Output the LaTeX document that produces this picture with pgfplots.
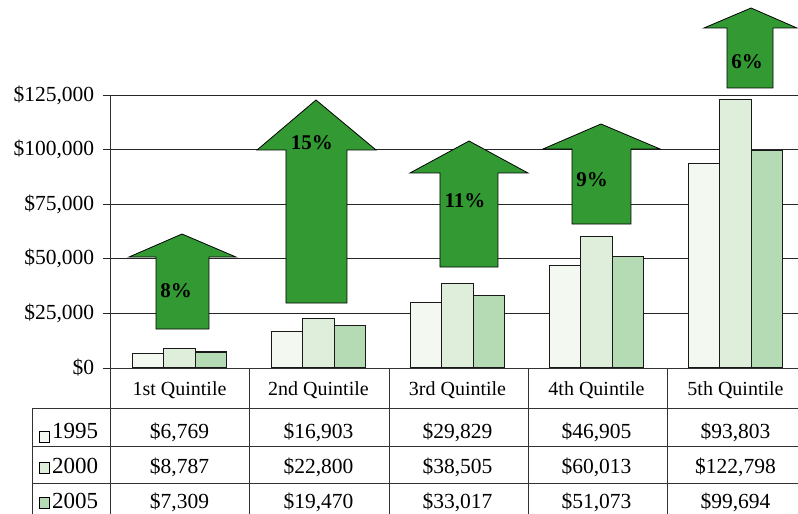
\documentclass[border=0pt]{standalone}
\usepackage{fontspec}
\setmainfont{Liberation Serif}
\usepackage{pgfplots}
\pgfplotsset{compat=1.18}
\definecolor{cA}{HTML}{F3F8F1}
\definecolor{cB}{HTML}{DFEEDB}
\definecolor{cC}{HTML}{B4DBB4}
\definecolor{arrowgreen}{HTML}{339933}
\newcommand{\numfont}{\fontsize{21.5}{24}\selectfont}
\begin{document}
\fontsize{20}{24}\selectfont
\begin{tikzpicture}
\begin{axis}[
 at={(110pt,-368pt)}, anchor=south west,
 scale only axis, width=695pt, height=368pt,
 xmin=-0.5, xmax=4.5, ymin=0, ymax=168498,
 axis line style={draw=none},
 xtick=\empty,
 ytick={0,25000,50000,75000,100000,125000},
 yticklabels={{\$0},{\$25,000},{\$50,000},{\$75,000},{\$100,000},{\$125,000}},
 ymajorgrids, grid style={black!85, line width=0.9pt},
 tick align=outside, major tick length=7pt,
 ytick style={black!85,line width=0.9pt},
 tick pos=left,
 scaled y ticks=false,
 yticklabel style={font=\numfont, xshift=-2pt},
 ybar=0pt, bar width=31.3pt,
 clip=false,
]
\addplot[fill=cA, draw=black!90, line width=1.1pt] coordinates {(0,6769) (1,16903) (2,29829) (3,46905) (4,93803)};
\addplot[fill=cB, draw=black!90, line width=1.1pt] coordinates {(0,8787) (1,22800) (2,38505) (3,60013) (4,122798)};
\addplot[fill=cC, draw=black!90, line width=1.1pt] coordinates {(0,7309) (1,19470) (2,33017) (3,51073) (4,99694)};
% arrows
\draw[fill=arrowgreen, draw=black, line width=0.8pt] (axis cs:-0.169,17857) -- (axis cs:0.212,17857) -- (axis cs:0.212,50825) -- (axis cs:0.406,50825) -- (axis cs:0.018,61356) -- (axis cs:-0.363,50825) -- (axis cs:-0.169,50825) -- cycle;
\node[font=\bfseries\fontsize{21}{24}\selectfont] at (axis cs:-0.025,35257) {8\%};
\draw[fill=arrowgreen, draw=black, line width=0.8pt] (axis cs:0.766,29762) -- (axis cs:1.205,29762) -- (axis cs:1.205,99818) -- (axis cs:1.414,99818) -- (axis cs:0.982,122712) -- (axis cs:0.558,99818) -- (axis cs:0.766,99818) -- cycle;
\node[font=\bfseries\fontsize{21}{24}\selectfont] at (axis cs:0.953,103023) {15\%};
\draw[fill=arrowgreen, draw=black, line width=0.8pt] (axis cs:1.874,46246) -- (axis cs:2.291,46246) -- (axis cs:2.291,89287) -- (axis cs:2.507,89287) -- (axis cs:2.083,103939) -- (axis cs:1.658,89287) -- (axis cs:1.874,89287) -- cycle;
\node[font=\bfseries\fontsize{21}{24}\selectfont] at (axis cs:2.054,76466) {11\%};
\draw[fill=arrowgreen, draw=black, line width=0.8pt] (axis cs:2.824,65935) -- (axis cs:3.248,65935) -- (axis cs:3.248,100276) -- (axis cs:3.457,100276) -- (axis cs:3.032,111723) -- (axis cs:2.615,100276) -- (axis cs:2.824,100276) -- cycle;
\node[font=\bfseries\fontsize{21}{24}\selectfont] at (axis cs:2.968,86081) {9\%};
\draw[fill=arrowgreen, draw=black, line width=0.8pt] (axis cs:3.939,128206) -- (axis cs:4.270,128206) -- (axis cs:4.270,155679) -- (axis cs:4.442,155679) -- (axis cs:4.112,164837) -- (axis cs:3.773,155679) -- (axis cs:3.939,155679) -- cycle;
\node[font=\bfseries\fontsize{21}{24}\selectfont] at (axis cs:4.083,140111) {6\%};
\end{axis}
% table lines
\begin{scope}[line width=0.9pt, draw=black!80]
\draw (110pt,-95pt) -- (110pt,-530pt);
\draw (110pt,-368pt) -- (815pt,-368pt);
\foreach \yy in {408,446,483} \draw (32pt,-\yy pt) -- (815pt,-\yy pt);
\draw (32pt,-408pt) -- (32pt,-530pt);
\foreach \xx in {249,389,528,667,806} \draw (\xx pt,-368pt) -- (\xx pt,-530pt);
\end{scope}
% header
\node[anchor=base, inner sep=0pt] at (179.5pt,-395pt) {1st Quintile};
\node[anchor=base, inner sep=0pt] at (318.5pt,-395pt) {2nd Quintile};
\node[anchor=base, inner sep=0pt] at (457.5pt,-395pt) {3rd Quintile};
\node[anchor=base, inner sep=0pt] at (596.5pt,-395pt) {4th Quintile};
\node[anchor=base, inner sep=0pt] at (735.5pt,-395pt) {5th Quintile};
% rows
\begin{scope}[every node/.style={anchor=base, inner sep=0pt, font=\numfont}]
\node at (179.5pt,-438pt) {\$6,769};
\node at (318.5pt,-438pt) {\$16,903};
\node at (457.5pt,-438pt) {\$29,829};
\node at (596.5pt,-438pt) {\$46,905};
\node at (735.5pt,-438pt) {\$93,803};
\node at (179.5pt,-473pt) {\$8,787};
\node at (318.5pt,-473pt) {\$22,800};
\node at (457.5pt,-473pt) {\$38,505};
\node at (596.5pt,-473pt) {\$60,013};
\node at (735.5pt,-473pt) {\$122,798};
\node at (179.5pt,-508pt) {\$7,309};
\node at (318.5pt,-508pt) {\$19,470};
\node at (457.5pt,-508pt) {\$33,017};
\node at (596.5pt,-508pt) {\$51,073};
\node at (735.5pt,-508pt) {\$99,694};
\end{scope}
% legend keys
\draw[fill=cA, draw=black, line width=0.8pt] (39pt,-431pt) rectangle (49pt,-442pt);
\draw[fill=cB, draw=black, line width=0.8pt] (39pt,-462pt) rectangle (49pt,-473pt);
\draw[fill=cC, draw=black, line width=0.8pt] (39pt,-497pt) rectangle (49pt,-508pt);
\begin{scope}[every node/.style={anchor=base west, inner sep=0pt, font=\fontsize{23}{24}\selectfont}]
\node at (52pt,-438pt) {1995};
\node at (52pt,-473pt) {2000};
\node at (52pt,-508pt) {2005};
\end{scope}
\pgfresetboundingbox
\useasboundingbox (0pt,0pt) rectangle (798pt,-514pt);
\end{tikzpicture}
\end{document}
